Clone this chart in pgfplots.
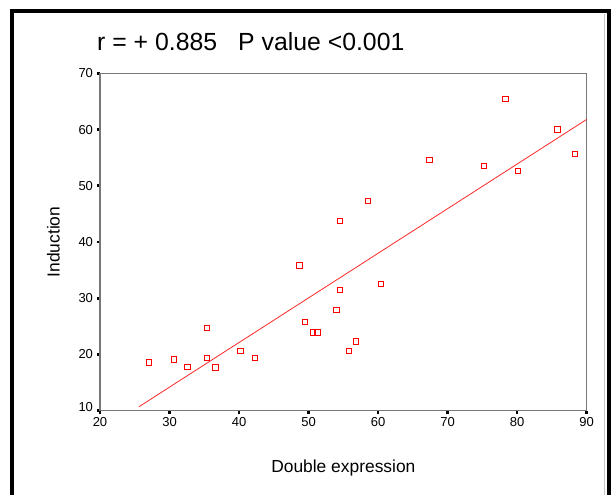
\documentclass[border=0pt]{standalone}
\usepackage{pgfplots}
\pgfplotsset{compat=1.18}
\usepackage{fontspec}
\setmainfont{Liberation Sans}

\definecolor{axisgray}{RGB}{120,120,120}
\definecolor{ptred}{RGB}{255,0,0}
\definecolor{fitred}{RGB}{250,40,40}

\begin{document}
\begin{tikzpicture}
\useasboundingbox (0,0) rectangle (611pt,495pt);
\fill[white] (0,0) rectangle (611pt,495pt);

% frame round the whole chart (open at the bottom)
\draw[line width=4.2pt, line cap=rect] (12pt,0pt) -- (12pt,484pt) -- (609pt,484pt) -- (609pt,0pt);
\draw[gray!45, line width=1pt] (604.5pt,0pt) -- (604.5pt,481pt);

\node[anchor=base west, inner sep=0pt, font=\fontsize{24.8}{28}\selectfont]
  at (97pt,444pt) {r = + 0.885\hspace{0.85em}P value <0.001};

\begin{axis}[
    at={(100pt,84.3pt)}, anchor=south west,
    scale only axis,
    width=486.7pt, height=337.4pt,
    xmin=20, xmax=90, ymin=10, ymax=70,
    xtick={20,30,...,90},
    ytick={10,20,...,70},
    yticklabels={\raisebox{7pt}{10},20,30,40,50,60,70},
    xtick pos=left, ytick pos=left,
    tick align=outside,
    major tick length=3.5pt,
    every tick/.style={black, line width=2.6pt},
    axis line style={draw=axisgray, line width=1.5pt},
    /pgf/number format/assume math mode=true,
    tick label style={font=\fontsize{13}{15}\selectfont},
    xlabel={Double expression},
    ylabel={Induction},
    label style={font=\fontsize{17.4}{20}\selectfont},
    xlabel style={at={(axis description cs:0.5,-0.146)}, anchor=north, inner sep=0pt},
    ylabel style={at={(axis description cs:-0.082,0.5)}, anchor=south, inner sep=0pt},
    clip=false,
  ]
  % observations
  \addplot[only marks, mark=square, mark size=2.7pt, draw=ptred,
           mark options={line width=0.9pt}] coordinates {
    (27.0,18.6) (30.6,19.1) (32.6,17.8) (35.4,24.7) (35.4,19.4)
    (36.6,17.7) (40.2,20.6) (42.3,19.4) (48.7,35.8) (49.5,25.8)
    (50.6,23.9) (51.3,23.9) (54.0,27.9) (54.5,31.5) (54.5,43.7)
    (55.8,20.6) (56.8,22.3) (58.5,47.3) (60.4,32.5) (67.4,54.6)
    (75.2,53.5) (78.3,65.4) (80.1,52.6) (85.8,60.0) (88.3,55.7)
  };
  % fitted line
  \addplot[fitred, line width=0.8pt] coordinates {(25.6,10.7) (90,61.8)};
\end{axis}
\end{tikzpicture}
\end{document}
